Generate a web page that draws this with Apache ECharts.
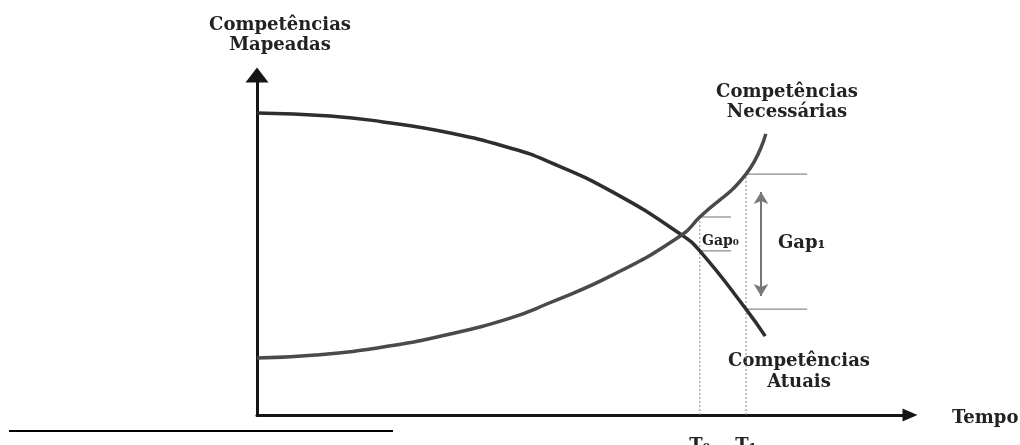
<!DOCTYPE html>
<html>
<head>
<meta charset="utf-8">
<script src="https://cdn.jsdelivr.net/npm/echarts@6/dist/echarts.min.js"></script>
<style>
  html, body { margin: 0; padding: 0; background: #fff; }
  #chart { width: 1020px; height: 445px; }
</style>
</head>
<body>
<div id="chart"></div>
<script>
// curve readings (time, level)
const atuaisTempo = [0, 12.2, 21, 32.2, 42.2, 48.3, 59.3, 70.8, 73.8, 81.5, 84.7];
const atuaisValores = [100.7, 99.7, 97.7, 94, 89, 84.7, 74.3, 60, 54.7, 35.3, 26.3];
const necessariasTempo = [0, 9.8, 21, 32.2, 42.2, 48.3, 59.3, 70.8, 73.8, 81.5, 84.8];
const necessariasValores = [19, 20, 22.7, 27, 32.3, 37, 46.7, 60, 66, 80.3, 93.7];

const marcosTempo = [73.8, 81.5];
const marcosRotulos = ['T₀', 'T₁'];
const gapRotulos = ['Gap₀', 'Gap₁'];

const gapSetaTempo = 84;
const gapSetaTopo = 74.3;
const gapSetaBase = 39.7;

const FONT = '"DejaVu Serif", serif';

function pairs(xs, ys) {
  return xs.map((x, i) => [x, ys[i]]);
}

function valueAt(xs, ys, t) {
  return ys[xs.indexOf(t)];
}

const chart = echarts.init(document.getElementById('chart'));

const nec0 = valueAt(necessariasTempo, necessariasValores, marcosTempo[0]);
const atu0 = valueAt(atuaisTempo, atuaisValores, marcosTempo[0]);
const nec1 = valueAt(necessariasTempo, necessariasValores, marcosTempo[1]);
const atu1 = valueAt(atuaisTempo, atuaisValores, marcosTempo[1]);

const thin = (color, type) => ({ color: color, width: 1, type: type || 'solid' });

const extraLines = [
  { data: [[marcosTempo[0], 0], [marcosTempo[0], nec0]], style: thin('#8a8a8a', [2, 2]) },
  { data: [[marcosTempo[1], 0], [marcosTempo[1], nec1]], style: thin('#8a8a8a', [2, 2]) },
  { data: [[marcosTempo[0], nec0], [marcosTempo[0] + 5.2, nec0]], style: thin('#6e6e6e') },
  { data: [[marcosTempo[0], atu0], [marcosTempo[0] + 5.2, atu0]], style: thin('#6e6e6e') },
  { data: [[marcosTempo[1], nec1], [marcosTempo[1] + 10.2, nec1]], style: thin('#6e6e6e') },
  { data: [[marcosTempo[1], atu1], [marcosTempo[1] + 10.2, atu1]], style: thin('#6e6e6e') }
].map(l => ({
  type: 'line',
  data: l.data,
  symbol: 'none',
  lineStyle: l.style,
  silent: true,
  z: 1
}));

function label(x, y, text, size, extra) {
  return {
    type: 'text',
    x: x,
    y: y,
    style: Object.assign({
      text: text,
      align: 'center',
      verticalAlign: 'middle',
      lineHeight: 20,
      font: 'bold ' + size + 'px ' + FONT,
      fill: '#222'
    }, extra || {})
  };
}

chart.setOption({
  animation: false,
  backgroundColor: '#fff',
  grid: { left: 257, right: 110, top: 75, bottom: 30, containLabel: false, outerBoundsMode: 'none' },
  xAxis: {
    type: 'value',
    min: 0,
    max: 653 / 6,
    splitLine: { show: false },
    axisTick: { show: false },
    axisLine: {
      show: true,
      symbol: ['none', 'triangle'],
      symbolSize: [13, 15],
      lineStyle: { color: '#151515', width: 3 }
    },
    axisLabel: {
      customValues: marcosTempo,
      formatter: v => marcosRotulos[marcosTempo.indexOf(v)] || '',
      margin: 22,
      color: '#222',
      fontFamily: FONT,
      fontWeight: 'bold',
      fontSize: 18
    }
  },
  yAxis: {
    type: 'value',
    min: 0,
    max: 340 / 3,
    splitLine: { show: false },
    axisTick: { show: false },
    axisLabel: { show: false },
    axisLine: {
      show: true,
      symbol: ['none', 'triangle'],
      symbolSize: [23, 15],
      lineStyle: { color: '#151515', width: 3 }
    }
  },
  series: [
    {
      name: 'Competências Atuais',
      type: 'line',
      smooth: true,
      symbol: 'none',
      data: pairs(atuaisTempo, atuaisValores),
      lineStyle: { color: '#2e2e2e', width: 3.5 },
      z: 3
    },
    {
      name: 'Competências Necessárias',
      type: 'line',
      smooth: true,
      symbol: 'none',
      data: pairs(necessariasTempo, necessariasValores),
      lineStyle: { color: '#4a4a4a', width: 3.5 },
      z: 3,
      markLine: {
        silent: true,
        symbol: ['arrow', 'arrow'],
        symbolSize: [11, 12],
        label: { show: false },
        lineStyle: { color: '#777', width: 2, type: 'solid' },
        data: [[
          { coord: [gapSetaTempo, gapSetaTopo] },
          { coord: [gapSetaTempo, gapSetaBase] }
        ]]
      }
    }
  ].concat(extraLines),
  graphic: [
    label(280, 35, 'Competências\nMapeadas', 18),
    label(787, 102, 'Competências\nNecessárias', 18),
    label(799, 372, 'Competências\nAtuais', 18, { lineHeight: 21 }),
    label(702, 241, gapRotulos[0], 14, { align: 'left' }),
    label(778, 243, gapRotulos[1], 18, { align: 'left' }),
    label(952, 418, 'Tempo', 18, { align: 'left' }),
    {
      type: 'line',
      shape: { x1: 9, y1: 431, x2: 393, y2: 431 },
      style: { stroke: '#000', lineWidth: 2 }
    }
  ]
});
</script>
</body>
</html>
